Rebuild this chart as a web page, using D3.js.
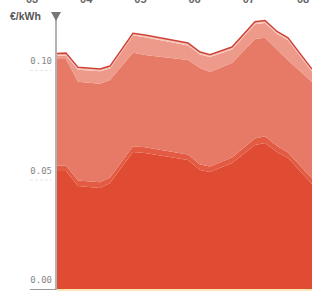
<!DOCTYPE html>
<html>
<head>
<meta charset="utf-8">
<script src="https://cdn.jsdelivr.net/npm/d3@7"></script>
<style>
  body { margin: 0; background: #fff; }
  svg { display: block; }
</style>
</head>
<body>
<script>
// sample dates as fractional years
var dates = [2003.443, 2003.627, 2003.849, 2004.255, 2004.439, 2004.863, 2005.085, 2005.878,
             2006.100, 2006.284, 2006.690, 2007.114, 2007.299, 2007.520, 2007.723, 2008.166];
// stacked price components, €/kWh (bottom to top)
var energy   = [0.0539, 0.0539, 0.0470, 0.0461, 0.0484, 0.0626, 0.0621, 0.0589,
                0.0543, 0.0534, 0.0575, 0.0658, 0.0667, 0.0626, 0.0598, 0.0479];
var network  = [0.0025, 0.0025, 0.0026, 0.0026, 0.0025, 0.0026, 0.0026, 0.0025,
                0.0025, 0.0025, 0.0025, 0.0029, 0.0030, 0.0027, 0.0025, 0.0025];
var taxes    = [0.0486, 0.0486, 0.0450, 0.0450, 0.0445, 0.0427, 0.0422, 0.0432,
                0.0441, 0.0432, 0.0432, 0.0454, 0.0450, 0.0441, 0.0422, 0.0441];
var levies   = [0.0014, 0.0016, 0.0055, 0.0057, 0.0053, 0.0078, 0.0080, 0.0066,
                0.0062, 0.0068, 0.0062, 0.0068, 0.0068, 0.0071, 0.0091, 0.0048];
var other    = [0.0011, 0.0011, 0.0011, 0.0011, 0.0011, 0.0011, 0.0011, 0.0011,
                0.0011, 0.0011, 0.0011, 0.0011, 0.0011, 0.0011, 0.0011, 0.0011];
var keys = ["energy", "network", "taxes", "levies", "other"];
var colors = ["#df4b33", "#e35b43", "#e77967", "#ee9a8b", "#f6c5ba"];
var yearLabels = ["03", "04", "05", "06", "07", "08"];
var yearTicks = [2003, 2004, 2005, 2006, 2007, 2008];
var yTicks = [0, 0.05, 0.10];

var width = 312;
var height = 293;
var plot = { left: 57, right: 312, top: 15, bottom: 289 };

var rows = dates.map(function(d, i) {
    return { date: d, energy: energy[i], network: network[i], taxes: taxes[i], levies: levies[i], other: other[i] };
});

var svg = d3.select("body").append("svg")
    .attr("width", width)
    .attr("height", height);

var xScale = d3.scaleLinear()
    .domain([2003, 2008])
    .range([32, 303]);
var yScale = d3.scaleLinear()
    .domain([0, 0.1])
    .range([plot.bottom, 70]);

svg.append("clipPath").attr("id", "clip")
  .append("rect")
    .attr("x", plot.left)
    .attr("y", 0)
    .attr("width", plot.right - plot.left)
    .attr("height", plot.bottom);

var stack = d3.stack().keys(keys);
var series = stack(rows);

var area = d3.area()
    .x(function(d) { return xScale(d.data.date); })
    .y0(function(d) { return yScale(d[0]); })
    .y1(function(d) { return yScale(d[1]); });

var g = svg.append("g").attr("clip-path", "url(#clip)");

g.selectAll("path.layer")
    .data(series)
    .enter()
    .append("path")
    .attr("class", "layer")
    .attr("fill", function(d, i) { return colors[i]; })
    .attr("d", area);

var topLine = d3.line()
    .x(function(d) { return xScale(d.data.date); })
    .y(function(d) { return yScale(d[1]); });

g.append("path")
    .datum(series[series.length - 1])
    .attr("fill", "none")
    .attr("stroke", "#cf4337")
    .attr("stroke-width", 1.5)
    .attr("d", topLine);

// pale baseline under the plot
svg.append("rect")
    .attr("x", plot.left)
    .attr("y", plot.bottom)
    .attr("width", plot.right - plot.left)
    .attr("height", 2)
    .attr("fill", "#fbe8b6");

// y ticks
var yt = svg.selectAll("g.ytick")
    .data(yTicks)
    .enter()
    .append("g")
    .attr("class", "ytick")
    .attr("transform", function(d) { return "translate(0," + yScale(d) + ")"; });

yt.append("line")
    .attr("x1", 30)
    .attr("x2", function(d) { return d === 0 ? 56 : 52; })
    .attr("y1", 0.5)
    .attr("y2", 0.5)
    .attr("stroke", function(d) { return d === 0 ? "#999" : "#e6e6e6"; })
    .attr("stroke-dasharray", function(d) { return d === 0 ? null : "3,2"; });

yt.append("text")
    .attr("x", 52)
    .attr("y", -6)
    .attr("text-anchor", "end")
    .attr("font-family", "DejaVu Sans Mono, monospace")
    .attr("font-size", 9)
    .attr("fill", "#888")
    .text(function(d) { return d3.format(".2f")(d); });

// y axis line with arrow
svg.append("line")
    .attr("x1", 56).attr("x2", 56)
    .attr("y1", 16).attr("y2", plot.bottom + 1)
    .attr("stroke", "#999")
    .attr("stroke-width", 1.5);

svg.append("path")
    .attr("d", "M51,12 L61,12 L56,21 Z")
    .attr("fill", "#777");

svg.append("text")
    .attr("x", 10)
    .attr("y", 20)
    .attr("font-family", "Liberation Sans, Arial, sans-serif")
    .attr("font-weight", "bold")
    .attr("font-size", 10.5)
    .attr("fill", "#555")
    .text("€/kWh");

// year labels, cut off at top
svg.selectAll("text.year")
    .data(yearTicks)
    .enter()
    .append("text")
    .attr("class", "year")
    .attr("x", function(d) { return xScale(d); })
    .attr("y", 3)
    .attr("text-anchor", "middle")
    .attr("font-family", "Liberation Sans, Arial, sans-serif")
    .attr("font-weight", "bold")
    .attr("font-size", 11)
    .attr("fill", "#666")
    .text(function(d, i) { return yearLabels[i]; });
</script>
</body>
</html>
